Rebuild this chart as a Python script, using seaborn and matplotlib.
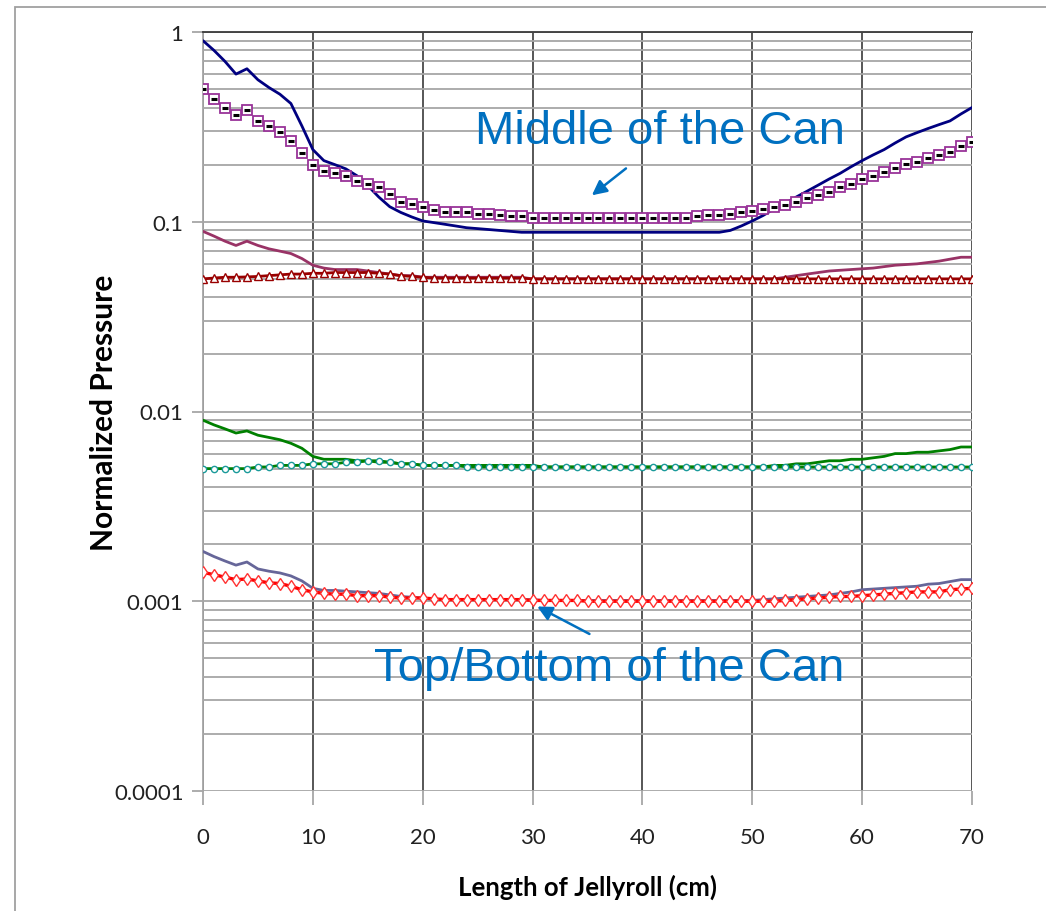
import numpy as np
import pandas as pd
import matplotlib
matplotlib.use("Agg")
import matplotlib.pyplot as plt
import matplotlib.ticker as mticker
from matplotlib.patches import Rectangle
import seaborn as sns

# Position along the jellyroll (cm)
length_cm = list(range(0, 71))

# Normalized pressure profiles, one value per cm
middle_line = [0.90, 0.80, 0.70, 0.60, 0.64, 0.56, 0.51, 0.47, 0.42, 0.32,
               0.24, 0.21, 0.20, 0.19, 0.175, 0.155, 0.135, 0.12, 0.112, 0.106,
               0.101, 0.099, 0.097, 0.095, 0.093, 0.092, 0.091, 0.090, 0.089, 0.088,
               0.088, 0.088, 0.088, 0.088, 0.088, 0.088, 0.088, 0.088, 0.088, 0.088,
               0.088, 0.088, 0.088, 0.088, 0.088, 0.088, 0.088, 0.088, 0.090, 0.095,
               0.101, 0.108, 0.117, 0.125, 0.135, 0.145, 0.156, 0.168, 0.180, 0.195,
               0.21, 0.225, 0.24, 0.26, 0.28, 0.295, 0.31, 0.325, 0.34, 0.37, 0.40]

middle_squares = [0.50, 0.444, 0.398, 0.366, 0.39, 0.341, 0.32, 0.298, 0.267, 0.231,
                  0.20, 0.186, 0.181, 0.175, 0.163, 0.159, 0.153, 0.14, 0.127, 0.124,
                  0.119, 0.116, 0.113, 0.113, 0.112, 0.110, 0.110, 0.108, 0.107, 0.107,
                  0.105, 0.105, 0.105, 0.105, 0.105, 0.105, 0.105, 0.105, 0.105, 0.105,
                  0.105, 0.105, 0.105, 0.105, 0.105, 0.107, 0.108, 0.109, 0.110, 0.112,
                  0.114, 0.117, 0.119, 0.122, 0.127, 0.134, 0.139, 0.144, 0.153, 0.159,
                  0.169, 0.175, 0.183, 0.193, 0.202, 0.206, 0.217, 0.225, 0.234, 0.252, 0.262]

upper_line = [0.089, 0.084, 0.079, 0.075, 0.079, 0.075, 0.072, 0.070, 0.068, 0.064,
              0.059, 0.057, 0.056, 0.056, 0.056, 0.055, 0.054, 0.053, 0.052, 0.052,
              0.051, 0.051, 0.051, 0.051, 0.051, 0.051, 0.051, 0.051, 0.051, 0.051,
              0.050, 0.050, 0.050, 0.050, 0.050, 0.050, 0.050, 0.050, 0.050, 0.050,
              0.050, 0.050, 0.050, 0.050, 0.050, 0.050, 0.050, 0.050, 0.050, 0.050,
              0.050, 0.050, 0.050, 0.051, 0.052, 0.053, 0.054, 0.055, 0.0555, 0.056,
              0.0565, 0.057, 0.058, 0.059, 0.0595, 0.060, 0.061, 0.062, 0.0635, 0.065, 0.065]

upper_triangles = [0.050, 0.0505, 0.051, 0.051, 0.0512, 0.0515, 0.052, 0.0525, 0.053, 0.053,
                   0.0535, 0.0535, 0.054, 0.054, 0.054, 0.054, 0.0535, 0.053, 0.052, 0.0515,
                   0.051, 0.0505, 0.0505, 0.0505, 0.0505, 0.0505, 0.0505, 0.0505, 0.0505, 0.0505,
                   0.050, 0.050, 0.050, 0.050, 0.050, 0.050, 0.050, 0.050, 0.050, 0.050,
                   0.050, 0.050, 0.050, 0.050, 0.050, 0.050, 0.050, 0.050, 0.050, 0.050,
                   0.050, 0.050, 0.050, 0.050, 0.050, 0.050, 0.050, 0.050, 0.050, 0.050,
                   0.050, 0.050, 0.050, 0.050, 0.050, 0.050, 0.050, 0.050, 0.050, 0.050, 0.050]

mid_line = [0.0090, 0.0085, 0.0081, 0.0077, 0.0079, 0.0075, 0.0073, 0.0071, 0.0068, 0.0064,
            0.0058, 0.0056, 0.0056, 0.0056, 0.0055, 0.0055, 0.0054, 0.0054, 0.0053, 0.0053,
            0.0052, 0.0052, 0.0052, 0.0052, 0.0052, 0.0052, 0.0052, 0.0052, 0.0052, 0.0052,
            0.0052, 0.0051, 0.0051, 0.0051, 0.0051, 0.0051, 0.0051, 0.0051, 0.0051, 0.0051,
            0.0051, 0.0051, 0.0051, 0.0051, 0.0051, 0.0051, 0.0051, 0.0051, 0.0051, 0.0051,
            0.0051, 0.0051, 0.0052, 0.0052, 0.0053, 0.0053, 0.0054, 0.0055, 0.0055, 0.0056,
            0.0056, 0.0057, 0.0058, 0.0060, 0.0060, 0.0061, 0.0061, 0.0062, 0.0063, 0.0065, 0.0065]

mid_circles = [0.0050, 0.0050, 0.0050, 0.0050, 0.0050, 0.0051, 0.0051, 0.0052, 0.0052, 0.0052,
               0.0053, 0.0053, 0.0053, 0.0054, 0.0054, 0.0055, 0.0055, 0.0054, 0.0053, 0.0053,
               0.0052, 0.0052, 0.0052, 0.0052, 0.0051, 0.0051, 0.0051, 0.0051, 0.0051, 0.0051,
               0.0051, 0.0051, 0.0051, 0.0051, 0.0051, 0.0051, 0.0051, 0.0051, 0.0051, 0.0051,
               0.0051, 0.0051, 0.0051, 0.0051, 0.0051, 0.0051, 0.0051, 0.0051, 0.0051, 0.0051,
               0.0051, 0.0051, 0.0051, 0.0051, 0.0051, 0.0051, 0.0051, 0.0051, 0.0051, 0.0051,
               0.0051, 0.0051, 0.0051, 0.0051, 0.0051, 0.0051, 0.0051, 0.0051, 0.0051, 0.0051, 0.0051]

end_line = [0.00183, 0.00172, 0.00163, 0.00155, 0.00161, 0.00148, 0.00144, 0.00141, 0.00136, 0.00128,
            0.00117, 0.00114, 0.00114, 0.00113, 0.00112, 0.00111, 0.00110, 0.00108, 0.00106, 0.00105,
            0.00104, 0.00102, 0.00102, 0.00102, 0.00102, 0.00102, 0.00102, 0.00102, 0.00102, 0.00102,
            0.00102, 0.00101, 0.00101, 0.00101, 0.00101, 0.00101, 0.00101, 0.00101, 0.00101, 0.00101,
            0.00101, 0.00101, 0.00101, 0.00101, 0.00101, 0.00101, 0.00101, 0.00101, 0.00101, 0.00101,
            0.00101, 0.00102, 0.00103, 0.00104, 0.00105, 0.00106, 0.00107, 0.00108, 0.00110, 0.00112,
            0.00115, 0.00116, 0.00117, 0.00118, 0.00119, 0.00120, 0.00123, 0.00124, 0.00127, 0.00130, 0.00130]

end_diamonds = [0.00142, 0.00138, 0.00134, 0.00130, 0.00131, 0.00128, 0.00125, 0.00124, 0.00120, 0.00115,
                0.00112, 0.00110, 0.00109, 0.00109, 0.00107, 0.00107, 0.00107, 0.00105, 0.00104, 0.00104,
                0.00104, 0.00103, 0.00102, 0.00102, 0.00102, 0.00102, 0.00102, 0.00102, 0.00102, 0.00102,
                0.00101, 0.00101, 0.00101, 0.00101, 0.00101, 0.00100, 0.00100, 0.00100, 0.00100, 0.00100,
                0.00100, 0.00100, 0.00100, 0.00100, 0.00100, 0.00100, 0.00100, 0.00100, 0.00100, 0.00100,
                0.00100, 0.00100, 0.00100, 0.00101, 0.00102, 0.00103, 0.00104, 0.00105, 0.00106, 0.00106,
                0.00107, 0.00108, 0.00109, 0.00110, 0.00111, 0.00112, 0.00112, 0.00112, 0.00115, 0.00116, 0.00117]

y_ticks = [1, 0.1, 0.01, 0.001, 0.0001]
y_tick_labels = ["1", "0.1", "0.01", "0.001", "0.0001"]
x_ticks = [0, 10, 20, 30, 40, 50, 60, 70]

sns.set_theme(style="white")
plt.rcParams["font.family"] = ["Lato", "DejaVu Sans"]

fig = plt.figure(figsize=(10.46, 9.12), dpi=100)
ax = fig.add_axes([203 / 1046, 1 - 792 / 912, 769 / 1046, 759 / 912])

df = pd.DataFrame({"x": length_cm})

# Plain curves (no markers)
for vals, col in [(middle_line, "#000080"),
                  (upper_line, "#993366"),
                  (mid_line, "#008000"),
                  (end_line, "#666699")]:
    sns.lineplot(x=df["x"], y=vals, color=col, lw=2.0, ax=ax, zorder=3)

# Open squares with small black dashes inside
sns.lineplot(x=df["x"], y=middle_squares, color="#993399", lw=0, marker="s",
             markersize=7.5, markerfacecolor="white", markeredgecolor="#993399",
             markeredgewidth=1.3, ax=ax, zorder=4)
sns.lineplot(x=df["x"], y=middle_squares, color="black", lw=0, marker="_",
             markersize=4.5, markeredgecolor="black", markerfacecolor="black",
             markeredgewidth=2.2, ax=ax, zorder=5)

# Open triangles on a dark red line
sns.lineplot(x=df["x"], y=upper_triangles, color="#990000", lw=2.0, marker="^",
             markersize=6, markerfacecolor="white", markeredgecolor="#990000",
             markeredgewidth=1.0, ax=ax, zorder=4)

# Open circles on a green line
sns.lineplot(x=df["x"], y=mid_circles, color="#008000", lw=2.0, marker="o",
             markersize=4.5, markerfacecolor="white", markeredgecolor="#1A9A9A",
             markeredgewidth=1.0, ax=ax, zorder=4)

# Open diamonds on a red line
sns.lineplot(x=df["x"], y=end_diamonds, color="#FF0000", lw=2.4, marker="d",
             markersize=6, markerfacecolor="white", markeredgecolor="#FF3333",
             markeredgewidth=1.0, ax=ax, zorder=5)

ax.set_yscale("log")
ax.set_ylim(0.0001, 1)
ax.set_xlim(0, 70)

ax.set_yticks(y_ticks)
ax.set_yticklabels(y_tick_labels)
ax.yaxis.set_minor_locator(mticker.LogLocator(base=10, subs=np.arange(2, 10)))
ax.yaxis.set_minor_formatter(mticker.NullFormatter())
ax.set_xticks(x_ticks)

ax.grid(True, which="major", axis="y", color="#A6A6A6", lw=1.3, zorder=1)
ax.grid(True, which="minor", axis="y", color="#A6A6A6", lw=1.3, zorder=1)
ax.grid(True, which="major", axis="x", color="#3A3A3A", lw=1.2, zorder=1)

for side in ["right", "bottom"]:
    ax.spines[side].set_visible(False)
ax.spines["top"].set_color("#3A3A3A")
ax.spines["top"].set_linewidth(1.3)
ax.spines["left"].set_color("#A6A6A6")
ax.spines["left"].set_linewidth(1.3)

ax.tick_params(axis="y", which="major", direction="out", length=8, width=1.3,
               color="#A6A6A6", left=True, pad=6, labelsize=16, labelcolor="#222222")
ax.tick_params(axis="y", which="minor", length=0)
ax.tick_params(axis="x", which="major", direction="out", length=10, width=1.3,
               color="#A6A6A6", bottom=True, pad=16, labelsize=16, labelcolor="#222222")

ax.set_xlabel("Length of Jellyroll (cm)", fontsize=18.5, fontweight="bold",
              color="black", labelpad=19)
ax.set_ylabel("Normalized Pressure", fontsize=21.5, fontweight="bold",
              color="black", labelpad=-3)

# Callouts
blue = "#0070C0"
ax.text(41.6, 0.300, "Middle of the Can", fontsize=34, color=blue,
        family="Liberation Sans", ha="center", va="center", zorder=6)
ax.annotate("", xy=(35.2, 0.135), xytext=(38.7, 0.195),
            arrowprops=dict(arrowstyle="-|>", color=blue, lw=1.8,
                            mutation_scale=22), zorder=6)
ax.text(37.0, 0.000444, "Top/Bottom of the Can", fontsize=34, color=blue,
        family="Liberation Sans", ha="center", va="center", zorder=6)
ax.annotate("", xy=(30.2, 0.000953), xytext=(35.4, 0.000662),
            arrowprops=dict(arrowstyle="-|>", color=blue, lw=1.8,
                            mutation_scale=22), zorder=6)

# Outer chart frame
fig.patches.append(Rectangle((15 / 1046, -0.05), 1.2, 1 - 8 / 912 + 0.05,
                             transform=fig.transFigure, fill=False,
                             edgecolor="#A0A0A0", lw=1.3))

fig.savefig("out.png", dpi=100)
